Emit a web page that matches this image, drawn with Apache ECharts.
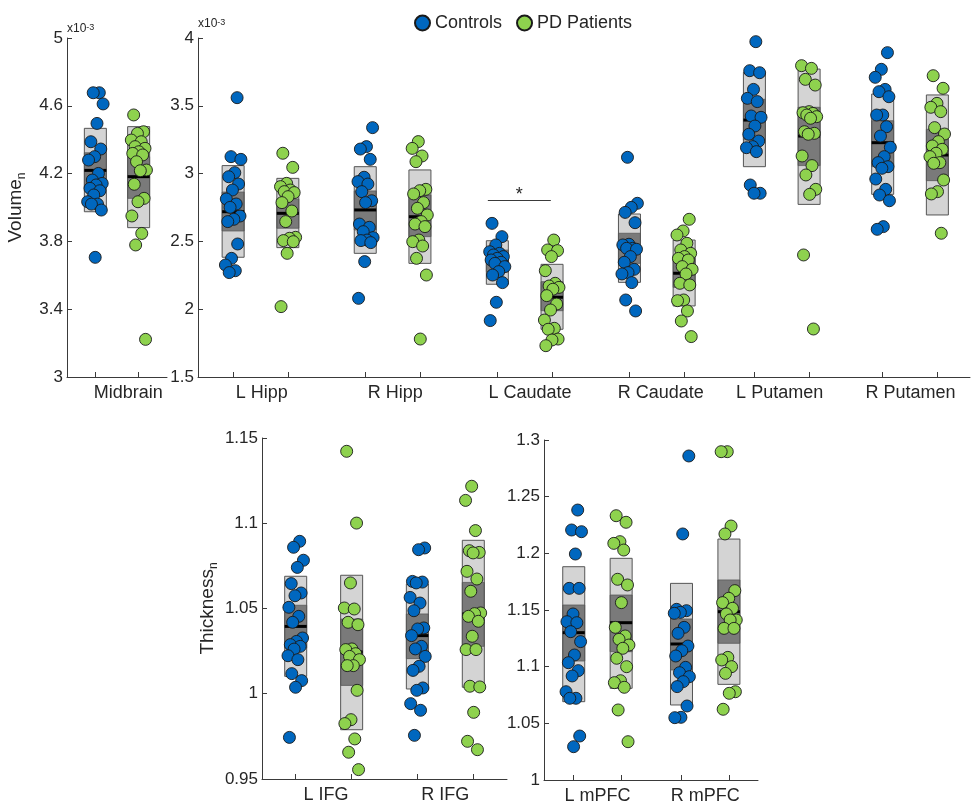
<!DOCTYPE html>
<html>
<head>
<meta charset="utf-8">
<script src="https://cdn.jsdelivr.net/npm/echarts@6/dist/echarts.min.js"></script>
<style>html,body{margin:0;padding:0;background:#fff}#c{width:971px;height:807px}</style>
</head>
<body>
<div id="c"></div>
<script>
// ---------- DATA (volumes in x10^-3) ----------
const volCategoriesA = ['Midbrain'];
const volCategoriesB = ['L Hipp', 'R Hipp', 'L Caudate', 'R Caudate', 'L Putamen', 'R Putamen'];
const thkCategoriesA = ['L IFG', 'R IFG'];
const thkCategoriesB = ['L mPFC', 'R mPFC'];
const seriesNames = ['Controls', 'PD Patients'];

const midbrainCtrl = [4.677,4.677,4.611,4.496,4.388,4.345,4.300,4.280,4.201,4.162,4.142,4.133,4.113,4.099,4.074,4.034,4.020,4.020,3.985,3.706];
const midbrainPD   = [4.546,4.447,4.437,4.398,4.388,4.359,4.349,4.329,4.319,4.310,4.270,4.221,4.217,4.137,4.054,4.034,3.950,3.847,3.779,3.222];

const lHippCtrl = [3.560,3.125,3.105,3.007,2.977,2.923,2.879,2.813,2.776,2.751,2.687,2.663,2.646,2.481,2.375,2.326,2.284,2.270];
const lHippPD   = [3.150,3.046,2.928,2.904,2.879,2.867,2.860,2.830,2.786,2.724,2.646,2.530,2.523,2.506,2.498,2.412,2.019];
const rHippCtrl = [3.339,3.199,3.181,3.105,2.973,2.941,2.923,2.867,2.800,2.786,2.628,2.604,2.572,2.528,2.510,2.506,2.491,2.351,2.080];
const rHippPD   = [3.236,3.186,3.130,3.088,2.884,2.874,2.850,2.786,2.744,2.695,2.646,2.628,2.609,2.510,2.498,2.466,2.375,2.252,1.780];
const lCaudCtrl = [2.633,2.535,2.474,2.424,2.412,2.400,2.388,2.375,2.363,2.346,2.338,2.314,2.277,2.252,2.196,2.051,1.916];
const lCaudPD   = [2.510,2.437,2.432,2.388,2.284,2.191,2.171,2.161,2.147,2.100,2.038,1.994,1.920,1.859,1.852,1.780,1.773,1.731];
const rCaudCtrl = [3.120,2.781,2.751,2.714,2.638,2.479,2.474,2.449,2.449,2.442,2.388,2.346,2.294,2.270,2.260,2.196,2.068,1.987];
const rCaudPD   = [2.663,2.577,2.547,2.486,2.437,2.412,2.388,2.375,2.363,2.314,2.294,2.260,2.191,2.179,2.068,2.063,1.987,1.913,1.798];
const lPutCtrl  = [3.973,3.759,3.744,3.621,3.555,3.531,3.425,3.415,3.351,3.290,3.240,3.199,3.191,3.162,2.916,2.855,2.855];
const lPutPD    = [3.796,3.776,3.695,3.653,3.457,3.449,3.444,3.432,3.420,3.408,3.309,3.297,3.290,3.130,3.059,2.990,2.884,2.847,2.400,1.854];
const rPutCtrl  = [3.892,3.769,3.710,3.621,3.604,3.567,3.432,3.432,3.346,3.277,3.194,3.125,3.081,3.051,3.039,2.960,2.884,2.842,2.800,2.609,2.589];
const rPutPD    = [3.722,3.629,3.518,3.489,3.457,3.339,3.292,3.236,3.204,3.179,3.150,3.125,3.081,3.076,2.953,2.867,2.850,2.560];

const lIfgCtrl  = [1.0894,1.0859,1.0783,1.0741,1.0646,1.0591,1.0575,1.0507,1.0454,1.0419,1.0327,1.0307,1.0288,1.0278,1.0262,1.0223,1.0200,1.0118,1.0077,1.0038,0.9744];
const lIfgPD    = [1.1422,1.1001,1.0650,1.0503,1.0497,1.0419,1.0405,1.0263,1.0259,1.0235,1.0219,1.0200,1.0165,1.0165,1.0020,0.9848,0.9825,0.9735,0.9657,0.9555];
const rIfgCtrl  = [1.0855,1.0845,1.0659,1.0655,1.0650,1.0565,1.0532,1.0487,1.0386,1.0380,1.0341,1.0278,1.0263,1.0219,1.0161,1.0137,1.0034,1.0020,0.9942,0.9903,0.9756];
const rIfgPD    = [1.1217,1.1134,1.0957,1.0839,1.0829,1.0826,1.0718,1.0673,1.0601,1.0474,1.0470,1.0454,1.0425,1.0337,1.0259,1.0259,1.0044,1.0040,0.9891,0.9721,0.9672];
const lMpfcCtrl = [1.2382,1.2206,1.2191,1.1994,1.1691,1.1691,1.1465,1.1397,1.1388,1.1309,1.1221,1.1103,1.1035,1.0965,1.0918,1.0779,1.0721,1.0721,1.0388,1.0294];
const lMpfcPD   = [1.2332,1.2274,1.2103,1.2088,1.2029,1.1771,1.1721,1.1565,1.1347,1.1271,1.1241,1.1191,1.1162,1.1074,1.1000,1.0876,1.0859,1.0818,1.0618,1.0338];
const rMpfcCtrl = [1.2859,1.2171,1.1506,1.1494,1.1479,1.1471,1.1347,1.1294,1.1182,1.1141,1.1094,1.0994,1.0947,1.0912,1.0868,1.0824,1.0653,1.0553,1.0550];
const rMpfcPD   = [1.2897,1.2897,1.2241,1.2171,1.1671,1.1603,1.1565,1.1515,1.1465,1.1412,1.1412,1.1338,1.1338,1.1082,1.1059,1.1000,1.0941,1.0779,1.0765,1.0624];

// box stats: [mean, innerLo, innerHi, outerLo, outerHi]
const midbrainCtrlBox = [4.219, 4.115, 4.323, 3.975, 4.467];
const midbrainPDBox   = [4.182, 4.054, 4.300, 3.881, 4.477];
const lHippCtrlBox = [2.719, 2.577, 2.864, 2.383, 3.059];
const lHippPDBox   = [2.707, 2.597, 2.813, 2.454, 2.965];
const rHippCtrlBox = [2.732, 2.584, 2.872, 2.412, 3.051];
const rHippPDBox   = [2.682, 2.535, 2.842, 2.338, 3.027];
const lCaudCtrlBox = [2.355, 2.276, 2.436, 2.184, 2.505];
const lCaudPDBox   = [2.088, 1.989, 2.203, 1.852, 2.331];
const rCaudCtrlBox = [2.449, 2.338, 2.560, 2.198, 2.702];
const rCaudPDBox   = [2.265, 2.161, 2.375, 2.024, 2.510];
const lPutCtrlBox  = [3.395, 3.248, 3.548, 3.051, 3.747];
const lPutPDBox    = [3.277, 3.059, 3.489, 2.773, 3.771];
const rPutCtrlBox  = [3.228, 3.051, 3.390, 2.847, 3.587];
const rPutPDBox    = [3.137, 2.948, 3.327, 2.695, 3.580];
const lIfgCtrlBox  = [1.0395, 1.0268, 1.0519, 1.0102, 1.0689];
const lIfgPDBox    = [1.0245, 1.0049, 1.0438, 0.9789, 1.0695];
const rIfgCtrlBox  = [1.0341, 1.0206, 1.0468, 1.0028, 1.0644];
const rIfgPDBox    = [1.0468, 1.0278, 1.0653, 1.0038, 1.0900];
const lMpfcCtrlBox = [1.1300, 1.1050, 1.1544, 1.0691, 1.1882];
const lMpfcPDBox   = [1.1388, 1.1132, 1.1632, 1.0809, 1.1956];
const rMpfcCtrlBox = [1.1200, 1.0971, 1.1421, 1.0662, 1.1735];
const rMpfcPDBox   = [1.1485, 1.1206, 1.1765, 1.0844, 1.2126];

// significance (L Caudate)
const sigLevel = 2.8;
const sigText = '*';

// y tick settings
const volATicks = {min: 3, max: 5, interval: 0.4};
const volBTicks = {min: 1.5, max: 4, interval: 0.5};
const thkATicks = {min: 0.95, max: 1.15, interval: 0.05};
const thkBTicks = {min: 1, max: 1.3, interval: 0.05};

// ---------- LAYOUT ----------
const FONT = "'Liberation Sans', Arial, Helvetica, sans-serif";
const TXT = '#262626';
const AX = '#3a3a3a';
const BLUE = '#0067BF';
const GREEN = '#8ED24E';
const BOXW = 22;

const panels = [
  {grid: {left: 67, top: 38, width: 100, height: 339}, xMin: -0.485, xMax: 0.485, unit: 103.1,
   pos: [0], off: 0.21, labelPos: [0.11], names: volCategoriesA, ticks: volATicks,
   ctrl: [midbrainCtrl], pd: [midbrainPD], ctrlBox: [midbrainCtrlBox], pdBox: [midbrainPDBox]},
  {grid: {left: 198, top: 38, width: 772, height: 339}, xMin: -0.473, xMax: 5.371, unit: 132.1,
   pos: [0, 1, 2, 3, 3.946, 4.917], off: 0.207, labelPos: [0.01, 1.02, 2.04, 3.03, 3.93, 4.92], names: volCategoriesB, ticks: volBTicks,
   ctrl: [lHippCtrl, rHippCtrl, lCaudCtrl, rCaudCtrl, lPutCtrl, rPutCtrl],
   pd: [lHippPD, rHippPD, lCaudPD, rCaudPD, lPutPD, rPutPD],
   ctrlBox: [lHippCtrlBox, rHippCtrlBox, lCaudCtrlBox, rCaudCtrlBox, lPutCtrlBox, rPutCtrlBox],
   pdBox: [lHippPDBox, rHippPDBox, lCaudPDBox, rCaudPDBox, lPutPDBox, rPutPDBox]},
  {grid: {left: 262, top: 438, width: 245, height: 341}, xMin: -0.507, xMax: 1.507, unit: 121.6,
   pos: [0, 1], off: 0.23, labelPos: [0.02, 1.0], names: thkCategoriesA, ticks: thkATicks,
   ctrl: [lIfgCtrl, rIfgCtrl], pd: [lIfgPD, rIfgPD], ctrlBox: [lIfgCtrlBox, rIfgCtrlBox], pdBox: [lIfgPDBox, rIfgPDBox]},
  {grid: {left: 544, top: 440, width: 214, height: 340}, xMin: -0.496, xMax: 1.49, unit: 107.75,
   pos: [0, 1], off: 0.22, labelPos: [0, 1], names: thkCategoriesB, ticks: thkBTicks,
   ctrl: [lMpfcCtrl, rMpfcCtrl], pd: [lMpfcPD, rMpfcPD], ctrlBox: [lMpfcCtrlBox, rMpfcCtrlBox], pdBox: [lMpfcPDBox, rMpfcPDBox]}
];

function jitterUnits(i, seed, unit) {
  const f = (((i + 1) * 0.6180339887 + seed) % 1) - 0.5;
  return f * 2 * 8 / unit;
}

function fmtNum(v) { return String(parseFloat(v.toFixed(4))); }

const grids = [], xAxes = [], yAxes = [], series = [];

panels.forEach((p, pi) => {
  grids.push(p.grid);
  const tickVals = [];
  p.pos.forEach(g => { tickVals.push(g - p.off, g + p.off); });
  xAxes.push({
    type: 'value', gridIndex: pi, min: p.xMin, max: p.xMax,
    axisLine: {show: true, onZero: false, lineStyle: {color: AX, width: 1}},
    axisTick: {show: true, inside: true, length: 5, customValues: tickVals, lineStyle: {color: AX}},
    axisLabel: {show: true, customValues: p.labelPos, fontFamily: FONT, fontSize: 18, color: TXT, margin: 7,
      formatter: (v) => {
        let best = 0, bd = 1e9;
        p.labelPos.forEach((lp, k) => { const d = Math.abs(lp - v); if (d < bd) { bd = d; best = k; } });
        return p.names[best];
      }},
    splitLine: {show: false}
  });
  const y = {
    type: 'value', gridIndex: pi, min: p.ticks.min, max: p.ticks.max, interval: p.ticks.interval,
    axisLine: {show: true, onZero: false, lineStyle: {color: AX, width: 1}},
    axisTick: {show: true, inside: true, length: 5, lineStyle: {color: AX}},
    axisLabel: {fontFamily: FONT, fontSize: 17, color: TXT, margin: 4, formatter: fmtNum},
    splitLine: {show: false}
  };
  if (pi === 0) {
    y.name = 'Volume{sub|n}';
  } else if (pi === 2) {
    y.name = 'Thickness{sub|n}';
  } else if (pi === 1) {
    y.name = 'x10{sup|-3}';
  }
  if (pi === 0 || pi === 2) {
    y.nameLocation = 'middle';
    y.nameRotate = 90;
    y.nameGap = pi === 0 ? 39 : 42;
    y.nameTextStyle = {fontFamily: FONT, fontSize: 19, color: TXT, lineHeight: 24,
      rich: {sub: {fontFamily: FONT, fontSize: 12, color: TXT, verticalAlign: 'bottom', lineHeight: 14}}};
  } else if (pi === 1) {
    y.nameLocation = 'end';
    y.nameGap = 3;
    y.nameTextStyle = {fontFamily: FONT, fontSize: 12, color: TXT, align: 'left', verticalAlign: 'bottom',
      rich: {sup: {fontFamily: FONT, fontSize: 9, color: TXT, verticalAlign: 'top', lineHeight: 10}}};
  }
  yAxes.push(y);
  if (pi === 0) {
    yAxes.push({
      type: 'value', gridIndex: 0, position: 'left', min: p.ticks.min, max: p.ticks.max,
      axisLine: {show: false, onZero: false}, axisTick: {show: false}, axisLabel: {show: false}, splitLine: {show: false},
      name: 'x10{sup|-3}', nameLocation: 'end', nameGap: 3,
      nameTextStyle: {fontFamily: FONT, fontSize: 12, color: TXT, align: 'left', verticalAlign: 'bottom',
        rich: {sup: {fontFamily: FONT, fontSize: 9, color: TXT, verticalAlign: 'top', lineHeight: 10}}}
    });
  }
});

const yIdx = [0, 2, 3, 4];

function boxRender(params, api) {
  const x = api.value(0);
  const cMean = api.coord([x, api.value(1)]);
  const cIL = api.coord([x, api.value(2)]);
  const cIH = api.coord([x, api.value(3)]);
  const cOL = api.coord([x, api.value(4)]);
  const cOH = api.coord([x, api.value(5)]);
  const x0 = cMean[0] - BOXW / 2;
  return {
    type: 'group',
    children: [
      {type: 'rect', shape: {x: x0, y: cOH[1], width: BOXW, height: cOL[1] - cOH[1]}, style: {fill: '#d4d4d4', stroke: null}},
      {type: 'rect', shape: {x: x0, y: cIH[1], width: BOXW, height: cIL[1] - cIH[1]}, style: {fill: '#7a7a7a', stroke: '#5a5a5a', lineWidth: 0.8}},
      {type: 'rect', shape: {x: x0, y: cOH[1], width: BOXW, height: cOL[1] - cOH[1]}, style: {fill: 'none', stroke: '#555', lineWidth: 1}},
      {type: 'line', shape: {x1: x0, y1: cMean[1], x2: x0 + BOXW, y2: cMean[1]}, style: {stroke: '#000', lineWidth: 3}}
    ]
  };
}

panels.forEach((p, pi) => {
  const boxData = [];
  p.pos.forEach((g, k) => {
    boxData.push([g - p.off].concat(p.ctrlBox[k]));
    boxData.push([g + p.off].concat(p.pdBox[k]));
  });
  series.push({
    type: 'custom', xAxisIndex: pi, yAxisIndex: yIdx[pi], renderItem: boxRender, data: boxData,
    encode: {x: 0, y: [1, 2, 3, 4, 5]}, silent: true, z: 1
  });
  [['ctrl', 0, BLUE, 0.13], ['pd', 1, GREEN, 0.57]].forEach(([key, si, color, seed]) => {
    const data = [];
    p.pos.forEach((g, k) => {
      const center = g + (si === 0 ? -p.off : p.off);
      p[key][k].forEach((v, i) => {
        data.push([center + jitterUnits(i, seed + k * 0.21, p.unit), v]);
      });
    });
    const s = {
      type: 'scatter', name: seriesNames[si], xAxisIndex: pi, yAxisIndex: yIdx[pi], data: data,
      symbol: 'circle', symbolSize: 12, z: 3,
      itemStyle: {color: color, borderColor: '#1a1a1a', borderWidth: 0.9, opacity: 1}
    };
    if (pi === 1 && si === 0) {
      s.markLine = {
        silent: true, symbol: 'none', animation: false,
        lineStyle: {color: '#3a3a3a', width: 1, type: 'solid'},
        label: {show: true, formatter: sigText, position: 'middle', distance: -3, fontFamily: FONT, fontSize: 18, color: TXT},
        data: [[{coord: [p.pos[2] - 0.279, sigLevel]}, {coord: [p.pos[2] + 0.198, sigLevel]}]]
      };
    }
    series.push(s);
  });
});

const chart = echarts.init(document.getElementById('c'), null, {renderer: 'canvas'});
chart.setOption({
  backgroundColor: '#fff',
  animation: false,
  textStyle: {fontFamily: FONT},
  legend: {
    data: [{name: 'Controls', icon: 'circle'}, {name: 'PD Patients', icon: 'circle'}],
    left: 409, top: 9, itemWidth: 15, itemHeight: 15, itemGap: 14,
    textStyle: {fontFamily: FONT, fontSize: 18, color: TXT}
  },
  grid: grids,
  xAxis: xAxes,
  yAxis: yAxes,
  series: series
});
</script>
</body>
</html>
